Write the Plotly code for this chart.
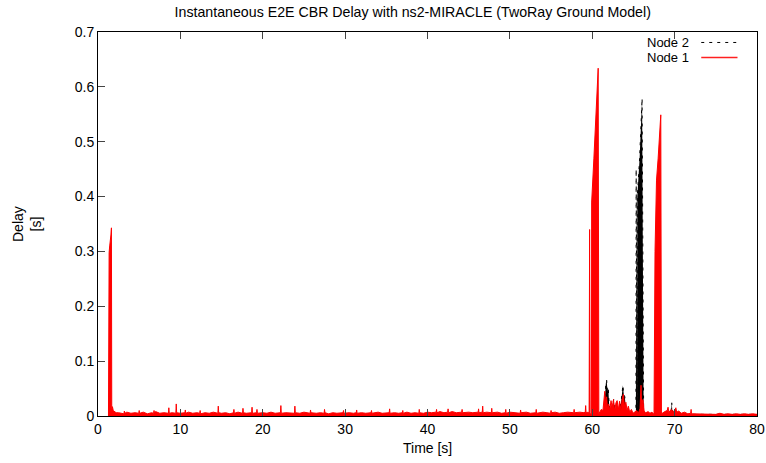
import plotly.graph_objects as go

# ---- Node 1: instantaneous end-to-end CBR delay (time [s], delay [s]) ----
node1_startup = [
    (1.27, 0.0), (1.29, 0.280), (1.35, 0.298), (1.42, 0.310), (1.50, 0.318),
    (1.57, 0.330), (1.63, 0.343), (1.67, 0.012), (1.75, 0.017), (1.85, 0.010),
    (2.0, 0.008), (2.2, 0.006),
]

node1_steady = [
    (2.5, .006), (3.0, .005), (3.15, .004), (3.2, .009), (3.25, .005), (3.5, .007),
    (4.0, .005), (4.5, .006), (4.95, .005), (5.0, .010), (5.05, .005), (5.5, .007),
    (6.0, .004), (6.5, .006), (6.75, .005), (6.8, .010), (6.85, .006), (7.0, .008),
    (7.5, .005), (8.0, .006), (8.55, .005), (8.6, .015), (8.65, .005), (9.0, .006),
    (9.45, .005), (9.5, .022), (9.55, .006), (10.0, .005), (10.55, .006), (10.6, .011),
    (10.65, .005), (11.0, .007), (11.5, .005), (12.0, .006), (12.35, .005), (12.4, .010),
    (12.45, .004), (13.0, .006), (13.5, .005), (14.0, .007), (14.55, .005), (14.6, .018),
    (14.65, .006), (15.0, .005), (15.5, .006), (16.0, .004), (16.45, .006), (16.5, .012),
    (16.55, .005), (17.0, .007), (17.55, .005), (17.6, .014), (17.65, .006), (18.0, .005),
    (18.65, .006), (18.7, .016), (18.75, .005), (19.25, .006), (19.3, .012), (19.35, .005),
    (20.0, .006), (20.5, .005), (21.0, .007), (21.5, .005), (22.15, .006), (22.2, .019),
    (22.25, .005), (22.8, .006), (23.85, .005), (23.9, .018), (23.95, .006), (24.5, .005),
    (25.0, .007), (25.75, .005), (25.8, .011), (25.85, .006), (26.5, .005), (27.0, .006),
    (27.45, .005), (27.5, .012), (27.55, .006), (28.0, .004), (28.5, .006), (29.0, .005),
    (29.75, .006), (29.8, .010), (29.85, .005), (30.5, .006), (31.0, .005), (31.35, .006),
    (31.4, .011), (31.45, .005), (32.0, .006), (32.5, .005), (33.15, .006), (33.2, .010),
    (33.25, .005), (34.0, .007), (34.5, .005), (35.35, .006), (35.4, .013), (35.45, .005),
    (36.0, .006), (36.5, .005), (36.95, .006), (37.0, .010), (37.05, .005), (37.5, .007),
    (38.0, .005), (38.5, .006), (38.95, .005), (39.0, .012), (39.05, .006), (39.5, .005),
    (40.0, .007), (40.5, .006), (41.05, .007), (41.1, .012), (41.15, .006), (41.5, .008),
    (42.0, .006), (42.45, .007), (42.5, .013), (42.55, .006), (43.0, .008), (43.5, .006),
    (44.15, .007), (44.2, .012), (44.25, .006), (45.0, .007), (45.5, .006), (46.15, .007),
    (46.2, .013), (46.25, .006), (46.65, .007), (46.7, .018), (46.75, .006), (47.2, .007),
    (47.75, .006), (47.8, .014), (47.85, .006), (48.5, .007), (49.0, .005), (49.45, .006),
    (49.5, .012), (49.55, .005), (50.0, .007), (50.5, .006), (51.25, .005), (51.3, .011),
    (51.35, .006), (52.0, .007), (52.5, .005), (53.15, .006), (53.2, .012), (53.25, .005),
    (54.0, .007), (54.5, .006), (54.95, .005), (55.0, .010), (55.05, .006), (55.5, .007),
    (56.0, .005), (56.5, .006), (57.0, .007), (57.75, .006), (57.8, .012), (57.85, .006),
    (58.5, .007), (59.0, .006), (59.15, .007), (59.2, .019), (59.25, .006), (59.5, .007),
]

node1_congestion = [
    (59.62, .005), (59.68, .34), (59.74, .004), (59.90, .004), (59.93, .39), (60.2, .47),
    (60.45, .55), (60.72, .634), (60.80, .004), (60.95, .008), (61.1, .012), (61.3, .010),
    (61.42, .030), (61.52, .045), (61.62, .024), (61.75, .035), (61.85, .014), (62.0, .022),
    (62.12, .010), (62.28, .028), (62.42, .016), (62.58, .030), (62.72, .009), (62.88, .024),
    (63.02, .028), (63.18, .012), (63.32, .027), (63.48, .010), (63.62, .030), (63.78, .040),
    (63.92, .018), (64.08, .025), (64.22, .010), (64.38, .018), (64.55, .007), (64.75, .012),
    (64.95, .005), (65.15, .008), (65.4, .010), (65.6, .005), (65.8, .014), (65.92, .056),
    (66.0, .018), (66.15, .030), (66.3, .009), (66.5, .006), (66.8, .008), (67.0, .005),
    (67.25, .007), (67.45, .004), (67.5, .004), (67.62, .30), (67.8, .43), (68.0, .47),
    (68.32, .549), (68.40, .004),
]

node1_tail = [
    (68.55, .006), (68.8, .008), (69.1, .010), (69.2, .016), (69.3, .007), (69.6, .012),
    (69.8, .008), (70.0, .010), (70.15, .015), (70.25, .007), (70.5, .009), (70.8, .005),
    (71.2, .007), (71.6, .004), (71.95, .005), (72.0, .012), (72.05, .004), (72.5, .004),
    (73.0, .003), (73.5, .004), (74.0, .003), (74.5, .004), (75.0, .003), (75.5, .005),
    (76.0, .003), (76.5, .004), (77.0, .003), (77.5, .004), (78.0, .003), (78.5, .004),
    (79.0, .003), (79.5, .004), (80.0, .003),
]

# ---- Node 2 ----
node2_steady = [
    (1.3, .003), (5.0, .003), (10.0, .003), (15.0, .003), (20.0, .003), (25.0, .003),
    (30.0, .003), (35.0, .003), (40.0, .003), (45.0, .003), (50.0, .003), (55.0, .003),
    (59.5, .003), (61.3, .003),
]

node2_congestion = [
    (61.45, .010), (61.55, .040), (61.65, .060), (61.75, .065), (61.85, .045), (61.95, .050),
    (62.05, .020), (62.2, .008), (62.4, .012), (62.6, .030), (62.75, .008), (63.0, .012),
    (63.3, .010), (63.5, .025), (63.62, .050), (63.72, .056), (63.82, .040), (63.95, .035),
    (64.1, .012), (64.3, .008), (64.6, .004), (65.0, .004), (65.3, .004), (65.33, .45),
    (65.36, .004), (65.44, .004), (65.47, .40), (65.75, .47), (66.05, .579), (66.24, .004),
    (66.5, .003),
]

node2_tail = [
    (68.5, .003), (69.55, .004), (69.65, .024), (69.75, .004), (70.0, .003), (80.0, .003),
]

x_ticks = [0, 10, 20, 30, 40, 50, 60, 70, 80]
y_ticks = [0, 0.1, 0.2, 0.3, 0.4, 0.5, 0.6, 0.7]

node1 = node1_startup + node1_steady + node1_congestion + node1_tail
node2 = node2_steady + node2_congestion + node2_tail

FONT = "Liberation Sans, Arial, Helvetica, sans-serif"

fig = go.Figure()

fig.add_trace(go.Scatter(
    x=[p[0] for p in node2], y=[p[1] for p in node2],
    mode="lines", name="Node 2",
    line=dict(color="black", width=1, dash="3px,5px"),
    fill="tozeroy", fillcolor="black",
    hoverinfo="skip", showlegend=False,
))

fig.add_trace(go.Scatter(
    x=[p[0] for p in node1], y=[p[1] for p in node1],
    mode="lines", name="Node 1",
    line=dict(color="#ff0000", width=1),
    fill="tozeroy", fillcolor="#ff0000",
    hoverinfo="skip", showlegend=False,
))

axis_common = dict(
    showgrid=False, zeroline=False, automargin=False,
    showline=True, linecolor="black", linewidth=1,
    ticks="inside", ticklen=7, tickwidth=1, tickcolor="#444444",
    tickfont=dict(family=FONT, size=14, color="black"),
)

# x ticks repeated along the top border; right border is a plain line
fig.update_xaxes(range=[0, 80], tickvals=x_ticks, mirror="ticks",
                 ticktext=[str(v) for v in x_ticks], **axis_common)
fig.update_yaxes(range=[0, 0.7], tickvals=y_ticks, mirror=True,
                 ticktext=["0" if v == 0 else f"{v:.1f}" for v in y_ticks],
                 **axis_common)

# key: label text on the left, line sample on the right
key = [("Node 2", 0.9727, dict(color="black", width=1, dash="3px,5px")),
       ("Node 1", 0.9336, dict(color="#ff2020", width=1.5))]
annotations = []
shapes = []
for label, ky, style in key:
    annotations.append(dict(
        text=label, xref="paper", yref="paper", x=0.8992, y=ky,
        xanchor="right", yanchor="middle", showarrow=False,
        font=dict(family=FONT, size=13, color="black"),
    ))
    shapes.append(dict(
        type="line", xref="paper", yref="paper",
        x0=0.9154, x1=0.9704, y0=ky, y1=ky, line=style,
    ))

annotations.append(dict(
    text="Delay<br>[s]", xref="paper", yref="paper", x=0, y=0.5,
    xshift=-71, xanchor="center", yanchor="middle", textangle=-90,
    showarrow=False, font=dict(family=FONT, size=14, color="black"),
))
annotations.append(dict(
    text="Time [s]", xref="paper", yref="paper", x=0.5, y=0,
    yshift=-32, xanchor="center", yanchor="middle",
    showarrow=False, font=dict(family=FONT, size=14, color="black"),
))

fig.update_layout(
    width=766, height=463,
    margin=dict(l=98, r=9, t=32, b=47, autoexpand=False),
    paper_bgcolor="white", plot_bgcolor="white",
    title=dict(
        text="Instantaneous E2E CBR Delay with ns2-MIRACLE (TwoRay Ground Model)",
        xref="paper", x=0.4776, xanchor="center",
        yref="container", y=1 - 12 / 463, yanchor="middle",
        font=dict(family=FONT, size=14.2, color="black"),
    ),
    annotations=annotations,
    shapes=shapes,
)

fig.write_html("out.html")
